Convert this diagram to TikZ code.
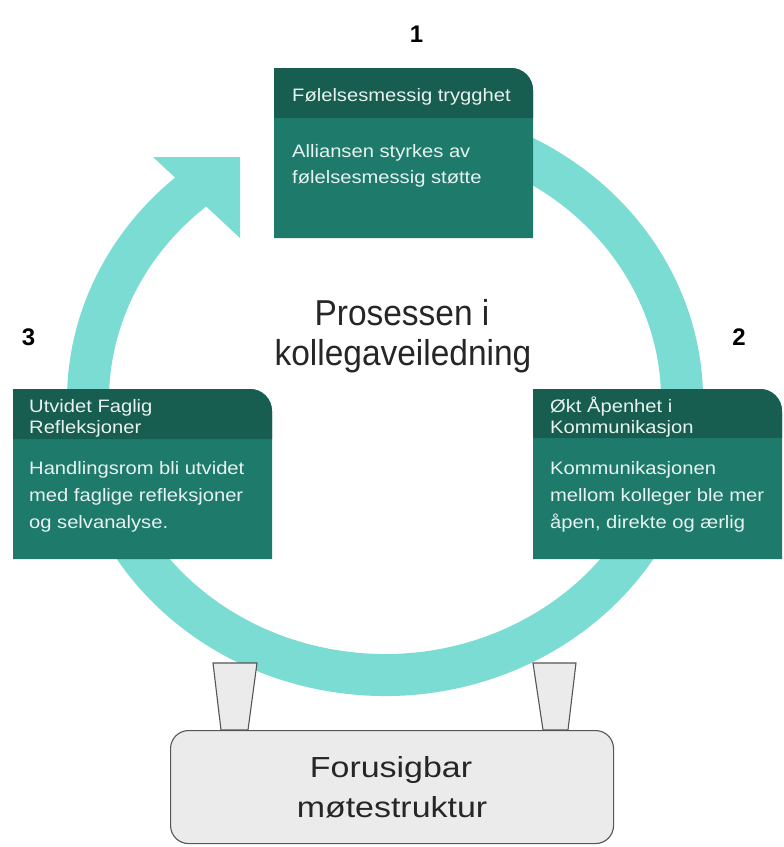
\documentclass[tikz,border=0pt]{standalone}
\usepackage{fontspec}
\setmainfont{Liberation Sans}
\newfontfamily\boxf[FakeStretch=1.12]{Liberation Sans}
\newfontfamily\midf[FakeStretch=0.93]{Liberation Sans}
\newfontfamily\botf[FakeStretch=1.17]{Liberation Sans}
\definecolor{ringc}{HTML}{7ADCD3}
\definecolor{bodyc}{HTML}{1E7B6C}
\definecolor{headc}{HTML}{175D50}
\definecolor{txtc}{HTML}{E8F2F0}
\definecolor{greyf}{HTML}{EBEBEB}
\definecolor{greyd}{HTML}{555555}
\tikzset{
  boxtxt/.style={inner sep=0pt, anchor=base west, text=txtc, font=\boxf\fontsize{18}{21}\selectfont},
  midtxt/.style={inner sep=0pt, anchor=base, text=black!85, font=\midf\fontsize{36}{40}\selectfont},
  bottxt/.style={inner sep=0pt, anchor=base, text=black!85, font=\botf\fontsize{29}{40}\selectfont},
  numtxt/.style={inner sep=0pt, anchor=base, text=black, font=\bfseries\fontsize{24}{28}\selectfont},
  legshape/.style={fill=greyf, draw=greyd, line width=1.1pt},
}
\newcommand{\cardbox}[5]{% x1 x2 yt yh yb
  \fill[bodyc] (#1,#5) -- (#1,#3) -- ({#2-22},#3) arc[start angle=-90, end angle=0, radius=22] -- (#2,#5) -- cycle;
  \fill[headc] (#1,#4) -- (#1,#3) -- ({#2-22},#3) arc[start angle=-90, end angle=0, radius=22] -- (#2,#4) -- cycle;
}
\begin{document}
\begin{tikzpicture}[x=1pt,y=-1pt]
\useasboundingbox (0,0) rectangle (784,847);
% ring with arrow
\draw[ringc, line width=42pt] ({385+297*cos(-80)},{400+275*sin(-80)}) arc[start angle=-80, end angle=230, x radius=297, y radius=275];
\fill[ringc] (153,157) -- (240,157) -- (240,238) -- cycle;
% cards
\cardbox{274}{533}{68}{118}{238}
\cardbox{13}{272}{389}{439}{559}
\cardbox{533}{782}{389}{438}{559}
% legs and base
\path[legshape] (213,663) -- (257,663) -- (248,730) -- (221,730) -- cycle;
\path[legshape] (533,663) -- (576,663) -- (568,730) -- (543,730) -- cycle;
\node[legshape, rounded corners=18pt, minimum width=443pt, minimum height=113pt, anchor=north west, inner sep=0pt] (base) at (170,730) {};
% texts card 1
\node[boxtxt] (h1) at (292,101) {Følelsesmessig trygghet};
\node[boxtxt] (b1a) at (292,157) {Alliansen styrkes av};
\node[boxtxt] (b1b) at (292,183) {følelsesmessig støtte};
% card 3
\node[boxtxt] (h3a) at (29,412) {Utvidet Faglig};
\node[boxtxt] (h3b) at (29,433) {Refleksjoner};
\node[boxtxt] (b3a) at (29,474) {Handlingsrom bli utvidet};
\node[boxtxt] (b3b) at (29,501) {med faglige refleksjoner};
\node[boxtxt] (b3c) at (29,528) {og selvanalyse.};
% card 2
\node[boxtxt] (h2a) at (550,412) {Økt Åpenhet i};
\node[boxtxt] (h2b) at (550,433) {Kommunikasjon};
\node[boxtxt] (b2a) at (550,474) {Kommunikasjonen};
\node[boxtxt] (b2b) at (550,501) {mellom kolleger ble mer};
\node[boxtxt] (b2c) at (550,528) {åpen, direkte og ærlig};
% centre
\node[midtxt] (m1) at (402,325) {Prosessen i};
\node[midtxt] (m2) at (403,365) {kollegaveiledning};
% numbers
\node[numtxt] (n1) at (416.5,42) {1};
\node[numtxt] (n2) at (739,345) {2};
\node[numtxt] (n3) at (28.5,345) {3};
% base text
\node[bottxt] (f1) at (391,777) {Forusigbar};
\node[bottxt] (f2) at (392,817) {møtestruktur};
\end{tikzpicture}
\end{document}
